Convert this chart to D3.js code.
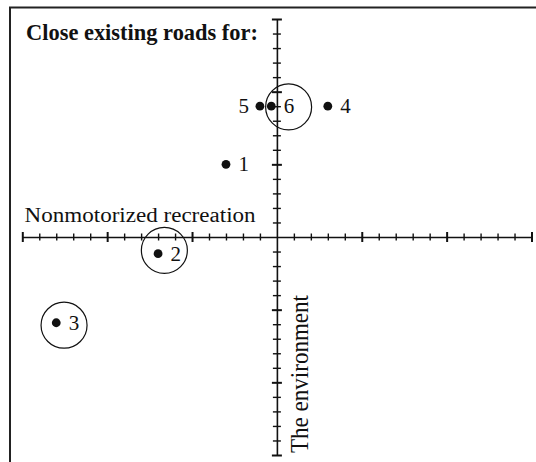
<!DOCTYPE html>
<html>
<head>
<meta charset="utf-8">
<script src="https://cdn.jsdelivr.net/npm/d3@7"></script>
<style>
  body { margin: 0; background: #fff; }
  svg { display: block; }
  text { font-family: "Liberation Serif", "Times New Roman", serif; fill: #111; }
</style>
</head>
<body>
<svg id="chart"></svg>
<script>
// points on the map (axis units)
var pointLabels = ['1', '2', '3', '4', '5', '6'];
var xValues = [-3, -7, -13, 3, -1, -0.33];
var yValues = [5, -1.15, -5.9, 9, 9, 9];
var labelSide = ['right', 'right', 'right', 'right', 'left', 'right'];

// circled groups, centres in axis units
var circleLabels = ['2', '3', '6'];
var circleX = [-6.63, -12.54, 0.69];
var circleY = [-0.92, -6.07, 8.95];

// unlabeled ticks
var tickValues = [-15, -14, -13, -12, -11, -10, -9, -8, -7, -6, -5, -4, -3, -2, -1,
                  1, 2, 3, 4, 5, 6, 7, 8, 9, 10, 11, 12, 13, 14, 15];
var majorTicks = [-15, -10, -5, 5, 10, 15];

var title = 'Close existing roads for:';
var xTitle = 'Nonmotorized recreation';
var yTitle = 'The environment';

var width = 536;
var height = 462;

var svg = d3.select('#chart')
    .attr('width', width)
    .attr('height', height);

// frame (runs off the right and bottom edges)
svg.append('rect')
    .attr('x', 10)
    .attr('y', 7.5)
    .attr('width', 600)
    .attr('height', 600)
    .attr('fill', 'none')
    .attr('stroke', '#222')
    .attr('stroke-width', 2);

var xScale = d3.scaleLinear()
    .domain([-15, 15])
    .range([22.3, 531.5]);

var yScale = d3.scaleLinear()
    .domain([-15, 15])
    .range([455, 19]);

// x axis through y = 0
var xAxis = d3.axisBottom(xScale)
    .tickValues(tickValues)
    .tickSizeOuter(0)
    .tickFormat('');

var gx = svg.append('g')
    .attr('transform', 'translate(0,' + yScale(0) + ')')
    .call(xAxis);
gx.select('.domain').attr('stroke', '#111').attr('stroke-width', 1.6);
gx.selectAll('.tick line')
    .attr('stroke', '#111')
    .attr('y1', d => majorTicks.includes(d) ? -5 : -3.5)
    .attr('y2', d => majorTicks.includes(d) ? 5 : 3.5)
    .attr('stroke-width', d => majorTicks.includes(d) ? 2 : 1.4);

// y axis through x = 0
var yAxis = d3.axisLeft(yScale)
    .tickValues(tickValues)
    .tickSizeOuter(0)
    .tickFormat('');

var gy = svg.append('g')
    .attr('transform', 'translate(' + xScale(0) + ',0)')
    .call(yAxis);
gy.select('.domain').attr('stroke', '#111').attr('stroke-width', 1.6);
gy.selectAll('.tick line')
    .attr('stroke', '#111')
    .attr('x1', d => majorTicks.includes(d) ? -5 : -4)
    .attr('x2', d => majorTicks.includes(d) ? 5 : 4)
    .attr('stroke-width', d => majorTicks.includes(d) ? 2 : 1.4);

// titles
svg.append('text')
    .attr('x', 26)
    .attr('y', 39.5)
    .style('font-size', '22.5px')
    .style('font-weight', 'bold')
    .attr('textLength', 232)
    .attr('lengthAdjust', 'spacingAndGlyphs')
    .text(title);

svg.append('text')
    .attr('x', 24.6)
    .attr('y', 221.7)
    .style('font-size', '20.5px')
    .attr('textLength', 231)
    .attr('lengthAdjust', 'spacingAndGlyphs')
    .text(xTitle);

svg.append('text')
    .attr('transform', 'translate(308,453) rotate(-90)')
    .style('font-size', '24.5px')
    .attr('textLength', 158)
    .attr('lengthAdjust', 'spacingAndGlyphs')
    .text(yTitle);

// circles round some points
svg.selectAll('circle.group')
  .data(circleLabels)
  .enter()
  .append('circle')
    .attr('class', 'group')
    .attr('cx', (d, i) => xScale(circleX[i]))
    .attr('cy', (d, i) => yScale(circleY[i]))
    .attr('r', 23)
    .attr('fill', 'none')
    .attr('stroke', '#111')
    .attr('stroke-width', 1.2);

// dots
svg.selectAll('circle.dot')
  .data(pointLabels)
  .enter()
  .append('circle')
    .attr('class', 'dot')
    .attr('cx', (d, i) => xScale(xValues[i]))
    .attr('cy', (d, i) => yScale(yValues[i]))
    .attr('r', 4.4)
    .attr('fill', '#111');

// point labels
svg.selectAll('text.plabel')
  .data(pointLabels)
  .enter()
  .append('text')
    .attr('class', 'plabel')
    .attr('x', (d, i) => xScale(xValues[i]) + (labelSide[i] == 'left' ? -11 : 12.5))
    .attr('y', (d, i) => yScale(yValues[i]))
    .attr('dy', '0.34em')
    .attr('text-anchor', (d, i) => labelSide[i] == 'left' ? 'end' : 'start')
    .style('font-size', '21px')
    .text(d => d);
</script>
</body>
</html>
